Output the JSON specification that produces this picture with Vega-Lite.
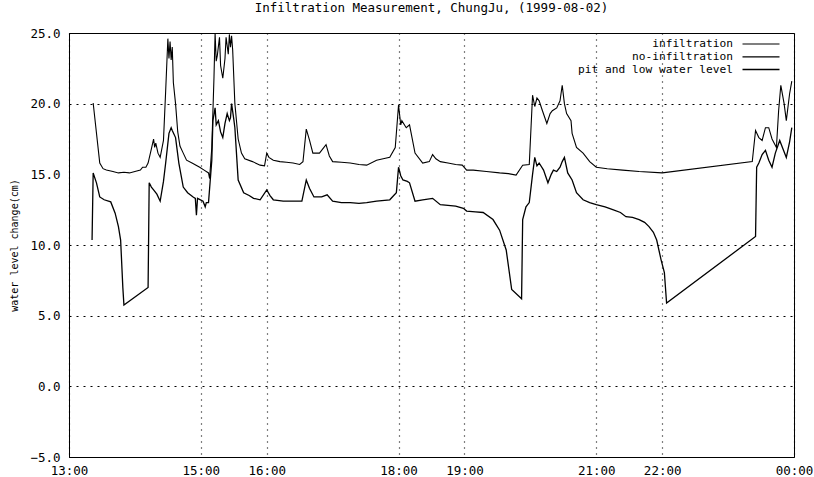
{
  "$schema": "https://vega.github.io/schema/vega-lite/v6.json",
  "width": 725,
  "height": 424,
  "autosize": {"type": "none"},
  "padding": {"left": 69, "top": 33, "right": 20, "bottom": 20},
  "background": "white",
  "title": {
    "text": "Infiltration Measurement, ChungJu, (1999-08-02)",
    "font": "DejaVu Sans Mono",
    "fontSize": 12.5,
    "fontWeight": "normal",
    "color": "black",
    "offset": 13
  },
  "config": {
    "view": {"stroke": "black", "strokeWidth": 1},
    "font": "DejaVu Sans Mono"
  },
  "data": {
    "format": {"parse": {"time": "date:'%H:%M'"}},
    "values": [
      {"series": "infiltration", "time": "13:22", "value": 20.05},
      {"series": "infiltration", "time": "13:28", "value": 15.8},
      {"series": "infiltration", "time": "13:31", "value": 15.4},
      {"series": "infiltration", "time": "13:34", "value": 15.3},
      {"series": "infiltration", "time": "13:40", "value": 15.2},
      {"series": "infiltration", "time": "13:45", "value": 15.1},
      {"series": "infiltration", "time": "13:50", "value": 15.15},
      {"series": "infiltration", "time": "13:55", "value": 15.1},
      {"series": "infiltration", "time": "14:00", "value": 15.2},
      {"series": "infiltration", "time": "14:05", "value": 15.3},
      {"series": "infiltration", "time": "14:07", "value": 15.5},
      {"series": "infiltration", "time": "14:10", "value": 15.5},
      {"series": "infiltration", "time": "14:12", "value": 15.8},
      {"series": "infiltration", "time": "14:15", "value": 16.8},
      {"series": "infiltration", "time": "14:17", "value": 17.5},
      {"series": "infiltration", "time": "14:18", "value": 16.9},
      {"series": "infiltration", "time": "14:19", "value": 17.2},
      {"series": "infiltration", "time": "14:21", "value": 16.5},
      {"series": "infiltration", "time": "14:23", "value": 16.2},
      {"series": "infiltration", "time": "14:26", "value": 17.4},
      {"series": "infiltration", "time": "14:28", "value": 20.9},
      {"series": "infiltration", "time": "14:30", "value": 24.6},
      {"series": "infiltration", "time": "14:31", "value": 23.2},
      {"series": "infiltration", "time": "14:32", "value": 24.4},
      {"series": "infiltration", "time": "14:33", "value": 23.1},
      {"series": "infiltration", "time": "14:34", "value": 24.0},
      {"series": "infiltration", "time": "14:35", "value": 21.5},
      {"series": "infiltration", "time": "14:37", "value": 20.0},
      {"series": "infiltration", "time": "14:39", "value": 18.0},
      {"series": "infiltration", "time": "14:41", "value": 17.0},
      {"series": "infiltration", "time": "14:44", "value": 16.5},
      {"series": "infiltration", "time": "14:47", "value": 16.0},
      {"series": "infiltration", "time": "14:52", "value": 15.8},
      {"series": "infiltration", "time": "14:59", "value": 15.5},
      {"series": "infiltration", "time": "15:03", "value": 15.3},
      {"series": "infiltration", "time": "15:07", "value": 15.1},
      {"series": "infiltration", "time": "15:08", "value": 14.7},
      {"series": "infiltration", "time": "15:10", "value": 16.9},
      {"series": "infiltration", "time": "15:12", "value": 21.9},
      {"series": "infiltration", "time": "15:13", "value": 25.0},
      {"series": "infiltration", "time": "15:14", "value": 23.0},
      {"series": "infiltration", "time": "15:15", "value": 23.4},
      {"series": "infiltration", "time": "15:17", "value": 24.7},
      {"series": "infiltration", "time": "15:18", "value": 22.7},
      {"series": "infiltration", "time": "15:20", "value": 21.8},
      {"series": "infiltration", "time": "15:22", "value": 23.2},
      {"series": "infiltration", "time": "15:23", "value": 24.7},
      {"series": "infiltration", "time": "15:25", "value": 23.5},
      {"series": "infiltration", "time": "15:26", "value": 24.9},
      {"series": "infiltration", "time": "15:27", "value": 24.0},
      {"series": "infiltration", "time": "15:28", "value": 24.8},
      {"series": "infiltration", "time": "15:29", "value": 23.8},
      {"series": "infiltration", "time": "15:31", "value": 20.0},
      {"series": "infiltration", "time": "15:34", "value": 17.5},
      {"series": "infiltration", "time": "15:37", "value": 16.5},
      {"series": "infiltration", "time": "15:40", "value": 16.1},
      {"series": "infiltration", "time": "15:47", "value": 15.9},
      {"series": "infiltration", "time": "15:54", "value": 15.65},
      {"series": "infiltration", "time": "15:58", "value": 15.6},
      {"series": "infiltration", "time": "16:00", "value": 16.5},
      {"series": "infiltration", "time": "16:02", "value": 16.2},
      {"series": "infiltration", "time": "16:06", "value": 16.0},
      {"series": "infiltration", "time": "16:12", "value": 15.9},
      {"series": "infiltration", "time": "16:18", "value": 15.85},
      {"series": "infiltration", "time": "16:24", "value": 15.8},
      {"series": "infiltration", "time": "16:30", "value": 15.7},
      {"series": "infiltration", "time": "16:33", "value": 15.9},
      {"series": "infiltration", "time": "16:36", "value": 18.2},
      {"series": "infiltration", "time": "16:39", "value": 17.4},
      {"series": "infiltration", "time": "16:42", "value": 16.5},
      {"series": "infiltration", "time": "16:48", "value": 16.5},
      {"series": "infiltration", "time": "16:54", "value": 17.1},
      {"series": "infiltration", "time": "16:57", "value": 16.3},
      {"series": "infiltration", "time": "17:00", "value": 15.9},
      {"series": "infiltration", "time": "17:08", "value": 15.85},
      {"series": "infiltration", "time": "17:16", "value": 15.8},
      {"series": "infiltration", "time": "17:24", "value": 15.7},
      {"series": "infiltration", "time": "17:31", "value": 15.65},
      {"series": "infiltration", "time": "17:40", "value": 16.0},
      {"series": "infiltration", "time": "17:46", "value": 16.1},
      {"series": "infiltration", "time": "17:52", "value": 16.2},
      {"series": "infiltration", "time": "17:57", "value": 16.9},
      {"series": "infiltration", "time": "18:00", "value": 19.9},
      {"series": "infiltration", "time": "18:02", "value": 18.5},
      {"series": "infiltration", "time": "18:03", "value": 18.8},
      {"series": "infiltration", "time": "18:07", "value": 18.3},
      {"series": "infiltration", "time": "18:10", "value": 18.5},
      {"series": "infiltration", "time": "18:15", "value": 16.5},
      {"series": "infiltration", "time": "18:22", "value": 15.8},
      {"series": "infiltration", "time": "18:28", "value": 15.9},
      {"series": "infiltration", "time": "18:31", "value": 16.4},
      {"series": "infiltration", "time": "18:34", "value": 16.1},
      {"series": "infiltration", "time": "18:38", "value": 15.9},
      {"series": "infiltration", "time": "18:45", "value": 15.8},
      {"series": "infiltration", "time": "18:52", "value": 15.7},
      {"series": "infiltration", "time": "18:58", "value": 15.65},
      {"series": "infiltration", "time": "19:02", "value": 15.3},
      {"series": "infiltration", "time": "19:08", "value": 15.3},
      {"series": "infiltration", "time": "19:20", "value": 15.2},
      {"series": "infiltration", "time": "19:32", "value": 15.1},
      {"series": "infiltration", "time": "19:40", "value": 15.05},
      {"series": "infiltration", "time": "19:47", "value": 14.95},
      {"series": "infiltration", "time": "19:53", "value": 15.65},
      {"series": "infiltration", "time": "19:59", "value": 15.7},
      {"series": "infiltration", "time": "20:02", "value": 20.6},
      {"series": "infiltration", "time": "20:04", "value": 19.8},
      {"series": "infiltration", "time": "20:06", "value": 20.4},
      {"series": "infiltration", "time": "20:08", "value": 20.2},
      {"series": "infiltration", "time": "20:11", "value": 19.5},
      {"series": "infiltration", "time": "20:15", "value": 18.6},
      {"series": "infiltration", "time": "20:18", "value": 19.3},
      {"series": "infiltration", "time": "20:20", "value": 19.5},
      {"series": "infiltration", "time": "20:24", "value": 19.7},
      {"series": "infiltration", "time": "20:27", "value": 20.2},
      {"series": "infiltration", "time": "20:29", "value": 21.3},
      {"series": "infiltration", "time": "20:31", "value": 20.0},
      {"series": "infiltration", "time": "20:33", "value": 19.3},
      {"series": "infiltration", "time": "20:37", "value": 18.8},
      {"series": "infiltration", "time": "20:38", "value": 17.9},
      {"series": "infiltration", "time": "20:42", "value": 16.9},
      {"series": "infiltration", "time": "20:48", "value": 16.5},
      {"series": "infiltration", "time": "20:54", "value": 15.9},
      {"series": "infiltration", "time": "21:00", "value": 15.5},
      {"series": "infiltration", "time": "21:10", "value": 15.4},
      {"series": "infiltration", "time": "21:24", "value": 15.3},
      {"series": "infiltration", "time": "21:39", "value": 15.2},
      {"series": "infiltration", "time": "22:00", "value": 15.1},
      {"series": "infiltration", "time": "23:22", "value": 15.9},
      {"series": "infiltration", "time": "23:25", "value": 18.1},
      {"series": "infiltration", "time": "23:28", "value": 17.6},
      {"series": "infiltration", "time": "23:31", "value": 17.4},
      {"series": "infiltration", "time": "23:34", "value": 18.3},
      {"series": "infiltration", "time": "23:37", "value": 18.3},
      {"series": "infiltration", "time": "23:40", "value": 17.5},
      {"series": "infiltration", "time": "23:44", "value": 16.9},
      {"series": "infiltration", "time": "23:46", "value": 19.5},
      {"series": "infiltration", "time": "23:48", "value": 21.3},
      {"series": "infiltration", "time": "23:51", "value": 20.0},
      {"series": "infiltration", "time": "23:53", "value": 18.8},
      {"series": "infiltration", "time": "23:56", "value": 20.7},
      {"series": "infiltration", "time": "23:58", "value": 21.6},

      {"series": "no-infiltration", "time": "13:21", "value": 10.35},
      {"series": "no-infiltration", "time": "13:22", "value": 15.1},
      {"series": "no-infiltration", "time": "13:25", "value": 14.4},
      {"series": "no-infiltration", "time": "13:28", "value": 13.4},
      {"series": "no-infiltration", "time": "13:32", "value": 13.2},
      {"series": "no-infiltration", "time": "13:38", "value": 13.05},
      {"series": "no-infiltration", "time": "13:42", "value": 12.25},
      {"series": "no-infiltration", "time": "13:45", "value": 11.3},
      {"series": "no-infiltration", "time": "13:47", "value": 10.35},
      {"series": "no-infiltration", "time": "13:49", "value": 7.0},
      {"series": "no-infiltration", "time": "13:50", "value": 5.75},
      {"series": "no-infiltration", "time": "14:12", "value": 7.0},
      {"series": "no-infiltration", "time": "14:13", "value": 14.4},
      {"series": "no-infiltration", "time": "14:15", "value": 14.1},
      {"series": "no-infiltration", "time": "14:17", "value": 13.9},
      {"series": "no-infiltration", "time": "14:20", "value": 13.6},
      {"series": "no-infiltration", "time": "14:23", "value": 13.1},
      {"series": "no-infiltration", "time": "14:26", "value": 14.5},
      {"series": "no-infiltration", "time": "14:28", "value": 15.8},
      {"series": "no-infiltration", "time": "14:31", "value": 17.9},
      {"series": "no-infiltration", "time": "14:33", "value": 18.3},
      {"series": "no-infiltration", "time": "14:34", "value": 18.1},
      {"series": "no-infiltration", "time": "14:37", "value": 17.6},
      {"series": "no-infiltration", "time": "14:40", "value": 15.8},
      {"series": "no-infiltration", "time": "14:44", "value": 14.1},
      {"series": "no-infiltration", "time": "14:48", "value": 13.7},
      {"series": "no-infiltration", "time": "14:53", "value": 13.4},
      {"series": "no-infiltration", "time": "14:55", "value": 13.3},
      {"series": "no-infiltration", "time": "14:56", "value": 12.1},
      {"series": "no-infiltration", "time": "14:57", "value": 13.3},
      {"series": "no-infiltration", "time": "15:02", "value": 13.1},
      {"series": "no-infiltration", "time": "15:04", "value": 12.7},
      {"series": "no-infiltration", "time": "15:05", "value": 13.0},
      {"series": "no-infiltration", "time": "15:07", "value": 13.0},
      {"series": "no-infiltration", "time": "15:10", "value": 16.0},
      {"series": "no-infiltration", "time": "15:11", "value": 18.8},
      {"series": "no-infiltration", "time": "15:13", "value": 19.7},
      {"series": "no-infiltration", "time": "15:14", "value": 18.5},
      {"series": "no-infiltration", "time": "15:16", "value": 18.8},
      {"series": "no-infiltration", "time": "15:18", "value": 18.0},
      {"series": "no-infiltration", "time": "15:20", "value": 17.6},
      {"series": "no-infiltration", "time": "15:22", "value": 18.6},
      {"series": "no-infiltration", "time": "15:24", "value": 19.3},
      {"series": "no-infiltration", "time": "15:26", "value": 18.8},
      {"series": "no-infiltration", "time": "15:27", "value": 19.0},
      {"series": "no-infiltration", "time": "15:28", "value": 20.0},
      {"series": "no-infiltration", "time": "15:30", "value": 18.9},
      {"series": "no-infiltration", "time": "15:31", "value": 18.3},
      {"series": "no-infiltration", "time": "15:34", "value": 14.6},
      {"series": "no-infiltration", "time": "15:39", "value": 13.7},
      {"series": "no-infiltration", "time": "15:44", "value": 13.5},
      {"series": "no-infiltration", "time": "15:48", "value": 13.3},
      {"series": "no-infiltration", "time": "15:54", "value": 13.2},
      {"series": "no-infiltration", "time": "16:00", "value": 13.9},
      {"series": "no-infiltration", "time": "16:03", "value": 13.5},
      {"series": "no-infiltration", "time": "16:06", "value": 13.2},
      {"series": "no-infiltration", "time": "16:15", "value": 13.1},
      {"series": "no-infiltration", "time": "16:24", "value": 13.1},
      {"series": "no-infiltration", "time": "16:32", "value": 13.1},
      {"series": "no-infiltration", "time": "16:36", "value": 14.6},
      {"series": "no-infiltration", "time": "16:39", "value": 14.0},
      {"series": "no-infiltration", "time": "16:43", "value": 13.4},
      {"series": "no-infiltration", "time": "16:50", "value": 13.4},
      {"series": "no-infiltration", "time": "16:55", "value": 13.55},
      {"series": "no-infiltration", "time": "17:00", "value": 13.1},
      {"series": "no-infiltration", "time": "17:08", "value": 13.0},
      {"series": "no-infiltration", "time": "17:16", "value": 13.0},
      {"series": "no-infiltration", "time": "17:24", "value": 12.95},
      {"series": "no-infiltration", "time": "17:31", "value": 13.0},
      {"series": "no-infiltration", "time": "17:40", "value": 13.1},
      {"series": "no-infiltration", "time": "17:52", "value": 13.2},
      {"series": "no-infiltration", "time": "17:58", "value": 13.7},
      {"series": "no-infiltration", "time": "18:00", "value": 15.5},
      {"series": "no-infiltration", "time": "18:02", "value": 14.9},
      {"series": "no-infiltration", "time": "18:04", "value": 14.6},
      {"series": "no-infiltration", "time": "18:08", "value": 14.5},
      {"series": "no-infiltration", "time": "18:10", "value": 14.4},
      {"series": "no-infiltration", "time": "18:15", "value": 13.1},
      {"series": "no-infiltration", "time": "18:22", "value": 13.2},
      {"series": "no-infiltration", "time": "18:31", "value": 13.3},
      {"series": "no-infiltration", "time": "18:38", "value": 12.85},
      {"series": "no-infiltration", "time": "18:45", "value": 12.8},
      {"series": "no-infiltration", "time": "18:52", "value": 12.75},
      {"series": "no-infiltration", "time": "18:59", "value": 12.6},
      {"series": "no-infiltration", "time": "19:02", "value": 12.4},
      {"series": "no-infiltration", "time": "19:10", "value": 12.35},
      {"series": "no-infiltration", "time": "19:17", "value": 12.3},
      {"series": "no-infiltration", "time": "19:26", "value": 11.8},
      {"series": "no-infiltration", "time": "19:32", "value": 11.05},
      {"series": "no-infiltration", "time": "19:38", "value": 9.65},
      {"series": "no-infiltration", "time": "19:43", "value": 6.85},
      {"series": "no-infiltration", "time": "19:52", "value": 6.2},
      {"series": "no-infiltration", "time": "19:53", "value": 11.8},
      {"series": "no-infiltration", "time": "19:56", "value": 12.7},
      {"series": "no-infiltration", "time": "19:59", "value": 13.0},
      {"series": "no-infiltration", "time": "20:02", "value": 15.0},
      {"series": "no-infiltration", "time": "20:04", "value": 16.2},
      {"series": "no-infiltration", "time": "20:06", "value": 15.6},
      {"series": "no-infiltration", "time": "20:08", "value": 15.8},
      {"series": "no-infiltration", "time": "20:12", "value": 15.3},
      {"series": "no-infiltration", "time": "20:16", "value": 14.4},
      {"series": "no-infiltration", "time": "20:19", "value": 15.0},
      {"series": "no-infiltration", "time": "20:21", "value": 15.3},
      {"series": "no-infiltration", "time": "20:24", "value": 15.2},
      {"series": "no-infiltration", "time": "20:27", "value": 15.5},
      {"series": "no-infiltration", "time": "20:29", "value": 15.9},
      {"series": "no-infiltration", "time": "20:31", "value": 16.2},
      {"series": "no-infiltration", "time": "20:34", "value": 15.1},
      {"series": "no-infiltration", "time": "20:38", "value": 14.6},
      {"series": "no-infiltration", "time": "20:42", "value": 13.7},
      {"series": "no-infiltration", "time": "20:48", "value": 13.2},
      {"series": "no-infiltration", "time": "20:54", "value": 13.0},
      {"series": "no-infiltration", "time": "21:00", "value": 12.85},
      {"series": "no-infiltration", "time": "21:08", "value": 12.7},
      {"series": "no-infiltration", "time": "21:15", "value": 12.5},
      {"series": "no-infiltration", "time": "21:22", "value": 12.3},
      {"series": "no-infiltration", "time": "21:27", "value": 12.0},
      {"series": "no-infiltration", "time": "21:33", "value": 11.95},
      {"series": "no-infiltration", "time": "21:39", "value": 11.8},
      {"series": "no-infiltration", "time": "21:44", "value": 11.6},
      {"series": "no-infiltration", "time": "21:48", "value": 11.3},
      {"series": "no-infiltration", "time": "21:52", "value": 10.9},
      {"series": "no-infiltration", "time": "21:55", "value": 10.35},
      {"series": "no-infiltration", "time": "21:59", "value": 8.95},
      {"series": "no-infiltration", "time": "22:02", "value": 8.05},
      {"series": "no-infiltration", "time": "22:04", "value": 5.9},
      {"series": "no-infiltration", "time": "23:25", "value": 10.6},
      {"series": "no-infiltration", "time": "23:26", "value": 15.5},
      {"series": "no-infiltration", "time": "23:28", "value": 15.8},
      {"series": "no-infiltration", "time": "23:31", "value": 16.4},
      {"series": "no-infiltration", "time": "23:34", "value": 16.7},
      {"series": "no-infiltration", "time": "23:37", "value": 16.0},
      {"series": "no-infiltration", "time": "23:40", "value": 15.5},
      {"series": "no-infiltration", "time": "23:43", "value": 16.5},
      {"series": "no-infiltration", "time": "23:47", "value": 17.4},
      {"series": "no-infiltration", "time": "23:50", "value": 16.8},
      {"series": "no-infiltration", "time": "23:53", "value": 16.2},
      {"series": "no-infiltration", "time": "23:56", "value": 17.3},
      {"series": "no-infiltration", "time": "23:58", "value": 18.3}
    ]
  },
  "mark": {"type": "line", "interpolate": "linear"},
  "encoding": {
    "x": {
      "field": "time",
      "type": "temporal",
      "scale": {
        "domain": [
          {"year": 1900, "month": 1, "date": 1, "hours": 13},
          {"year": 1900, "month": 1, "date": 2, "hours": 0}
        ]
      },
      "axis": {
        "title": null,
        "format": "%H:%M",
        "values": [
          {"year": 1900, "month": 1, "date": 1, "hours": 13},
          {"year": 1900, "month": 1, "date": 1, "hours": 15},
          {"year": 1900, "month": 1, "date": 1, "hours": 16},
          {"year": 1900, "month": 1, "date": 1, "hours": 18},
          {"year": 1900, "month": 1, "date": 1, "hours": 19},
          {"year": 1900, "month": 1, "date": 1, "hours": 21},
          {"year": 1900, "month": 1, "date": 1, "hours": 22},
          {"year": 1900, "month": 1, "date": 2, "hours": 0}
        ],
        "labelFont": "DejaVu Sans Mono",
        "labelFontSize": 12.5,
        "labelColor": "black",
        "labelPadding": 7,
        "labelFlush": false,
        "labelOverlap": false,
        "ticks": false,
        "domainColor": "black",
        "grid": true,
        "gridColor": "black",
        "gridDash": [1, 5],
        "gridWidth": 1.2
      }
    },
    "y": {
      "field": "value",
      "type": "quantitative",
      "scale": {"domain": [-5, 25], "nice": false, "zero": false},
      "axis": {
        "title": "water level change(cm)",
        "titleFont": "DejaVu Sans Mono",
        "titleFontSize": 10,
        "titleFontWeight": "normal",
        "titleColor": "black",
        "titlePadding": 10,
        "values": [-5, 0, 5, 10, 15, 20, 25],
        "format": ".1f",
        "labelFont": "DejaVu Sans Mono",
        "labelFontSize": 12.5,
        "labelColor": "black",
        "labelPadding": 9,
        "labelFlush": false,
        "ticks": false,
        "domainColor": "black",
        "grid": true,
        "gridColor": "black",
        "gridDash": [2, 5],
        "gridWidth": 1.2,
        "gridOpacity": {"condition": {"test": "datum.value == 15", "value": 0}, "value": 1}
      }
    },
    "color": {
      "field": "series",
      "type": "nominal",
      "scale": {
        "domain": ["infiltration", "no-infiltration", "pit and low water level"],
        "range": ["black", "black", "black"]
      },
      "legend": {
        "title": null,
        "orient": "none",
        "legendX": 500,
        "legendY": 5,
        "padding": 0,
        "rowPadding": 0.8,
        "symbolType": "M-3.7,0H3.7",
        "symbolSize": 100,
        "symbolStrokeWidth": 1.2,
        "labelFont": "DejaVu Sans Mono",
        "labelFontSize": 11.2,
        "labelLimit": 400,
        "labelColor": "black",
        "encode": {
          "labels": {"update": {"align": {"value": "right"}, "x": {"value": 164}}},
          "symbols": {"update": {"x": {"value": 192}}}
        }
      }
    },
    "strokeWidth": {
      "field": "series",
      "type": "nominal",
      "scale": {
        "domain": ["infiltration", "no-infiltration", "pit and low water level"],
        "range": [1.1, 1.5, 1]
      },
      "legend": null
    }
  }
}
